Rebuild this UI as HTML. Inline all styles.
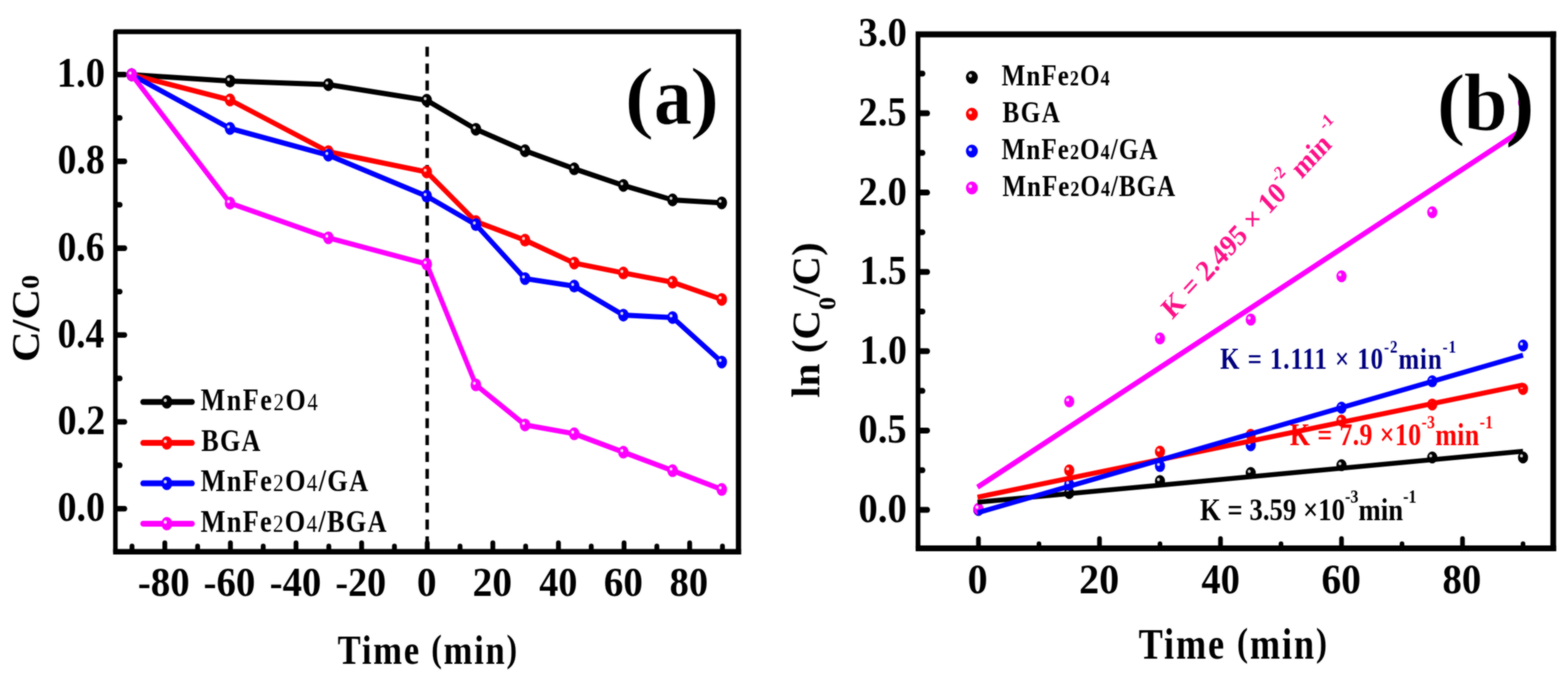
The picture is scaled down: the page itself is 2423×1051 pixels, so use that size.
<!DOCTYPE html>
<html lang="en">
<head>
<meta charset="utf-8">
<title>Figure: degradation curves and kinetics</title>
<style>
html,body{margin:0;padding:0;background:#fff;}
body{width:2423px;height:1051px;overflow:hidden;}
svg{display:block;}
text{white-space:pre;}
</style>
</head>
<body>
<svg width="2423" height="1051" viewBox="0 0 2423 1051">
<defs>
<filter id="soft" x="0" y="0" width="2423" height="1051" filterUnits="userSpaceOnUse" color-interpolation-filters="sRGB"><feGaussianBlur stdDeviation="0.85"/></filter>
</defs>
<g id="fig">
<rect width="2423" height="1051" fill="#ffffff"/>
<g transform="scale(0.92,1)">
<g stroke="#000" stroke-width="8.6" stroke-linecap="round"><line x1="194.89" y1="115.2" x2="209.35" y2="115.2"/><line x1="194.89" y1="249.4" x2="209.35" y2="249.4"/><line x1="194.89" y1="383.6" x2="209.35" y2="383.6"/><line x1="194.89" y1="517.8" x2="209.35" y2="517.8"/><line x1="194.89" y1="652.0" x2="209.35" y2="652.0"/><line x1="194.89" y1="786.2" x2="209.35" y2="786.2"/><line x1="194.89" y1="182.3" x2="201.52" y2="182.3"/><line x1="194.89" y1="316.5" x2="201.52" y2="316.5"/><line x1="194.89" y1="450.7" x2="201.52" y2="450.7"/><line x1="194.89" y1="584.9" x2="201.52" y2="584.9"/><line x1="194.89" y1="719.1" x2="201.52" y2="719.1"/></g>
<g stroke="#000" stroke-width="8.1" stroke-linecap="round"><line x1="276.83" y1="851.7" x2="276.83" y2="839.2"/><line x1="387.02" y1="851.7" x2="387.02" y2="839.2"/><line x1="497.22" y1="851.7" x2="497.22" y2="839.2"/><line x1="607.41" y1="851.7" x2="607.41" y2="839.2"/><line x1="717.61" y1="851.7" x2="717.61" y2="839.2"/><line x1="827.80" y1="851.7" x2="827.80" y2="839.2"/><line x1="938.00" y1="851.7" x2="938.00" y2="839.2"/><line x1="1048.20" y1="851.7" x2="1048.20" y2="839.2"/><line x1="1158.39" y1="851.7" x2="1158.39" y2="839.2"/><line x1="221.73" y1="851.7" x2="221.73" y2="844.2"/><line x1="331.92" y1="851.7" x2="331.92" y2="844.2"/><line x1="442.12" y1="851.7" x2="442.12" y2="844.2"/><line x1="552.32" y1="851.7" x2="552.32" y2="844.2"/><line x1="662.51" y1="851.7" x2="662.51" y2="844.2"/><line x1="772.71" y1="851.7" x2="772.71" y2="844.2"/><line x1="882.90" y1="851.7" x2="882.90" y2="844.2"/><line x1="993.10" y1="851.7" x2="993.10" y2="844.2"/><line x1="1103.29" y1="851.7" x2="1103.29" y2="844.2"/><line x1="1213.49" y1="851.7" x2="1213.49" y2="844.2"/></g>
<line x1="717.50" y1="72.2" x2="717.50" y2="852.7" stroke="#000" stroke-width="5.8" stroke-dasharray="15.4 10.7" stroke-dashoffset="0"/>
<polyline points="221.19,115.5 386.37,125.3 551.56,130.8 716.74,155.0 799.33,199.8 881.92,233.0 964.51,260.9 1047.10,286.6 1129.70,309.0 1212.29,313.6" fill="none" stroke="#000000" stroke-width="8.0" stroke-linejoin="round" stroke-linecap="round"/>
<ellipse cx="221.19" cy="115.5" rx="8.9" ry="9.9" fill="#000000"/><circle cx="218.59" cy="113.0" r="2.49" fill="#d4d4d4"/><ellipse cx="386.37" cy="125.3" rx="8.9" ry="9.9" fill="#000000"/><circle cx="383.77" cy="122.8" r="2.49" fill="#d4d4d4"/><ellipse cx="551.56" cy="130.8" rx="8.9" ry="9.9" fill="#000000"/><circle cx="548.96" cy="128.3" r="2.49" fill="#d4d4d4"/><ellipse cx="716.74" cy="155.0" rx="8.9" ry="9.9" fill="#000000"/><circle cx="714.14" cy="152.5" r="2.49" fill="#d4d4d4"/><ellipse cx="799.33" cy="199.8" rx="8.9" ry="9.9" fill="#000000"/><circle cx="796.73" cy="197.3" r="2.49" fill="#d4d4d4"/><ellipse cx="881.92" cy="233.0" rx="8.9" ry="9.9" fill="#000000"/><circle cx="879.32" cy="230.5" r="2.49" fill="#d4d4d4"/><ellipse cx="964.51" cy="260.9" rx="8.9" ry="9.9" fill="#000000"/><circle cx="961.91" cy="258.4" r="2.49" fill="#d4d4d4"/><ellipse cx="1047.10" cy="286.6" rx="8.9" ry="9.9" fill="#000000"/><circle cx="1044.50" cy="284.1" r="2.49" fill="#d4d4d4"/><ellipse cx="1129.70" cy="309.0" rx="8.9" ry="9.9" fill="#000000"/><circle cx="1127.10" cy="306.5" r="2.49" fill="#d4d4d4"/><ellipse cx="1212.29" cy="313.6" rx="8.9" ry="9.9" fill="#000000"/><circle cx="1209.69" cy="311.1" r="2.49" fill="#d4d4d4"/>
<polyline points="221.19,115.5 386.37,154.5 551.56,234.5 716.74,265.8 799.33,342.4 881.92,371.2 964.51,406.6 1047.10,421.9 1129.70,436.2 1212.29,462.8" fill="none" stroke="#ff0000" stroke-width="8.0" stroke-linejoin="round" stroke-linecap="round"/>
<ellipse cx="221.19" cy="115.5" rx="8.9" ry="9.9" fill="#ff0000"/><circle cx="218.59" cy="113.0" r="2.49" fill="#ffd8d8"/><ellipse cx="386.37" cy="154.5" rx="8.9" ry="9.9" fill="#ff0000"/><circle cx="383.77" cy="152.0" r="2.49" fill="#ffd8d8"/><ellipse cx="551.56" cy="234.5" rx="8.9" ry="9.9" fill="#ff0000"/><circle cx="548.96" cy="232.0" r="2.49" fill="#ffd8d8"/><ellipse cx="716.74" cy="265.8" rx="8.9" ry="9.9" fill="#ff0000"/><circle cx="714.14" cy="263.2" r="2.49" fill="#ffd8d8"/><ellipse cx="799.33" cy="342.4" rx="8.9" ry="9.9" fill="#ff0000"/><circle cx="796.73" cy="339.9" r="2.49" fill="#ffd8d8"/><ellipse cx="881.92" cy="371.2" rx="8.9" ry="9.9" fill="#ff0000"/><circle cx="879.32" cy="368.7" r="2.49" fill="#ffd8d8"/><ellipse cx="964.51" cy="406.6" rx="8.9" ry="9.9" fill="#ff0000"/><circle cx="961.91" cy="404.1" r="2.49" fill="#ffd8d8"/><ellipse cx="1047.10" cy="421.9" rx="8.9" ry="9.9" fill="#ff0000"/><circle cx="1044.50" cy="419.4" r="2.49" fill="#ffd8d8"/><ellipse cx="1129.70" cy="436.2" rx="8.9" ry="9.9" fill="#ff0000"/><circle cx="1127.10" cy="433.8" r="2.49" fill="#ffd8d8"/><ellipse cx="1212.29" cy="462.8" rx="8.9" ry="9.9" fill="#ff0000"/><circle cx="1209.69" cy="460.2" r="2.49" fill="#ffd8d8"/>
<polyline points="221.19,115.5 386.37,198.5 551.56,239.8 716.74,303.2 799.33,347.2 881.92,430.6 964.51,442.2 1047.10,487.1 1129.70,490.8 1212.29,559.6" fill="none" stroke="#0000ff" stroke-width="8.0" stroke-linejoin="round" stroke-linecap="round"/>
<ellipse cx="221.19" cy="115.5" rx="8.9" ry="9.9" fill="#0000ff"/><circle cx="218.59" cy="113.0" r="2.49" fill="#d8d8ff"/><ellipse cx="386.37" cy="198.5" rx="8.9" ry="9.9" fill="#0000ff"/><circle cx="383.77" cy="196.0" r="2.49" fill="#d8d8ff"/><ellipse cx="551.56" cy="239.8" rx="8.9" ry="9.9" fill="#0000ff"/><circle cx="548.96" cy="237.3" r="2.49" fill="#d8d8ff"/><ellipse cx="716.74" cy="303.2" rx="8.9" ry="9.9" fill="#0000ff"/><circle cx="714.14" cy="300.7" r="2.49" fill="#d8d8ff"/><ellipse cx="799.33" cy="347.2" rx="8.9" ry="9.9" fill="#0000ff"/><circle cx="796.73" cy="344.7" r="2.49" fill="#d8d8ff"/><ellipse cx="881.92" cy="430.6" rx="8.9" ry="9.9" fill="#0000ff"/><circle cx="879.32" cy="428.1" r="2.49" fill="#d8d8ff"/><ellipse cx="964.51" cy="442.2" rx="8.9" ry="9.9" fill="#0000ff"/><circle cx="961.91" cy="439.7" r="2.49" fill="#d8d8ff"/><ellipse cx="1047.10" cy="487.1" rx="8.9" ry="9.9" fill="#0000ff"/><circle cx="1044.50" cy="484.6" r="2.49" fill="#d8d8ff"/><ellipse cx="1129.70" cy="490.8" rx="8.9" ry="9.9" fill="#0000ff"/><circle cx="1127.10" cy="488.2" r="2.49" fill="#d8d8ff"/><ellipse cx="1212.29" cy="559.6" rx="8.9" ry="9.9" fill="#0000ff"/><circle cx="1209.69" cy="557.1" r="2.49" fill="#d8d8ff"/>
<polyline points="221.19,115.5 386.37,314.0 551.56,367.6 716.74,408.2 799.33,594.9 881.92,656.8 964.51,670.4 1047.10,698.9 1129.70,727.4 1212.29,756.4" fill="none" stroke="#ff00ff" stroke-width="8.0" stroke-linejoin="round" stroke-linecap="round"/>
<ellipse cx="221.19" cy="115.5" rx="8.9" ry="9.9" fill="#ff00ff"/><circle cx="218.59" cy="113.0" r="2.49" fill="#ffe0ff"/><ellipse cx="386.37" cy="314.0" rx="8.9" ry="9.9" fill="#ff00ff"/><circle cx="383.77" cy="311.5" r="2.49" fill="#ffe0ff"/><ellipse cx="551.56" cy="367.6" rx="8.9" ry="9.9" fill="#ff00ff"/><circle cx="548.96" cy="365.1" r="2.49" fill="#ffe0ff"/><ellipse cx="716.74" cy="408.2" rx="8.9" ry="9.9" fill="#ff00ff"/><circle cx="714.14" cy="405.7" r="2.49" fill="#ffe0ff"/><ellipse cx="799.33" cy="594.9" rx="8.9" ry="9.9" fill="#ff00ff"/><circle cx="796.73" cy="592.4" r="2.49" fill="#ffe0ff"/><ellipse cx="881.92" cy="656.8" rx="8.9" ry="9.9" fill="#ff00ff"/><circle cx="879.32" cy="654.2" r="2.49" fill="#ffe0ff"/><ellipse cx="964.51" cy="670.4" rx="8.9" ry="9.9" fill="#ff00ff"/><circle cx="961.91" cy="667.9" r="2.49" fill="#ffe0ff"/><ellipse cx="1047.10" cy="698.9" rx="8.9" ry="9.9" fill="#ff00ff"/><circle cx="1044.50" cy="696.4" r="2.49" fill="#ffe0ff"/><ellipse cx="1129.70" cy="727.4" rx="8.9" ry="9.9" fill="#ff00ff"/><circle cx="1127.10" cy="724.9" r="2.49" fill="#ffe0ff"/><ellipse cx="1212.29" cy="756.4" rx="8.9" ry="9.9" fill="#ff00ff"/><circle cx="1209.69" cy="753.9" r="2.49" fill="#ffe0ff"/>
<rect x="193.80" y="49.0" width="1046.63" height="803.7" fill="none" stroke="#000" stroke-width="7.6" stroke-linejoin="round"/>
<line x1="1240.43" y1="45.2" x2="1240.43" y2="857.0" stroke="#000" stroke-width="8.8"/>
<line x1="190.00" y1="852.7" x2="1244.83" y2="852.7" stroke="#000" stroke-width="8.6"/>
<line x1="240.22" y1="621.2" x2="322.61" y2="621.2" stroke="#000000" stroke-width="9" stroke-linecap="round"/>
<ellipse cx="280.22" cy="621.2" rx="9.2" ry="10.4" fill="#000000"/><circle cx="277.62" cy="618.7" r="2.58" fill="#d4d4d4"/>
<line x1="240.22" y1="684.6" x2="322.61" y2="684.6" stroke="#ff0000" stroke-width="9" stroke-linecap="round"/>
<ellipse cx="280.22" cy="684.6" rx="9.2" ry="10.4" fill="#ff0000"/><circle cx="277.62" cy="682.1" r="2.58" fill="#ffd8d8"/>
<line x1="240.22" y1="747.1" x2="322.61" y2="747.1" stroke="#0000ff" stroke-width="9" stroke-linecap="round"/>
<ellipse cx="280.22" cy="747.1" rx="9.2" ry="10.4" fill="#0000ff"/><circle cx="277.62" cy="744.6" r="2.58" fill="#d8d8ff"/>
<line x1="240.22" y1="809.4" x2="322.61" y2="809.4" stroke="#ff00ff" stroke-width="9" stroke-linecap="round"/>
<ellipse cx="280.22" cy="809.4" rx="9.2" ry="10.4" fill="#ff00ff"/><circle cx="277.62" cy="806.9" r="2.58" fill="#ffe0ff"/>
<g stroke="#000" stroke-width="9" stroke-linecap="round"><line x1="1543.04" y1="788.0" x2="1557.61" y2="788.0"/><line x1="1543.04" y1="665.4" x2="1557.61" y2="665.4"/><line x1="1543.04" y1="542.8" x2="1557.61" y2="542.8"/><line x1="1543.04" y1="420.2" x2="1557.61" y2="420.2"/><line x1="1543.04" y1="297.6" x2="1557.61" y2="297.6"/><line x1="1543.04" y1="175.0" x2="1557.61" y2="175.0"/><line x1="1543.04" y1="726.7" x2="1549.78" y2="726.7"/><line x1="1543.04" y1="604.1" x2="1549.78" y2="604.1"/><line x1="1543.04" y1="481.5" x2="1549.78" y2="481.5"/><line x1="1543.04" y1="358.9" x2="1549.78" y2="358.9"/><line x1="1543.04" y1="236.3" x2="1549.78" y2="236.3"/><line x1="1543.04" y1="113.7" x2="1549.78" y2="113.7"/></g>
<g stroke="#000" stroke-width="7.8" stroke-linecap="round"><line x1="1643.48" y1="846.5" x2="1643.48" y2="832.6"/><line x1="1846.74" y1="846.5" x2="1846.74" y2="832.6"/><line x1="2050.00" y1="846.5" x2="2050.00" y2="832.6"/><line x1="2253.26" y1="846.5" x2="2253.26" y2="832.6"/><line x1="2456.52" y1="846.5" x2="2456.52" y2="832.6"/><line x1="1745.11" y1="846.5" x2="1745.11" y2="840.6"/><line x1="1948.37" y1="846.5" x2="1948.37" y2="840.6"/><line x1="2151.63" y1="846.5" x2="2151.63" y2="840.6"/><line x1="2354.89" y1="846.5" x2="2354.89" y2="840.6"/><line x1="2558.15" y1="846.5" x2="2558.15" y2="840.6"/></g>
<ellipse cx="1643.48" cy="788.0" rx="8.5" ry="9.3" fill="#000000"/><circle cx="1640.88" cy="785.5" r="2.55" fill="#d4d4d4"/><ellipse cx="1795.92" cy="762.0" rx="8.5" ry="9.3" fill="#000000"/><circle cx="1793.32" cy="759.5" r="2.55" fill="#d4d4d4"/><ellipse cx="1948.37" cy="743.6" rx="8.5" ry="9.3" fill="#000000"/><circle cx="1945.77" cy="741.1" r="2.55" fill="#d4d4d4"/><ellipse cx="2100.82" cy="731.0" rx="8.5" ry="9.3" fill="#000000"/><circle cx="2098.22" cy="728.5" r="2.55" fill="#d4d4d4"/><ellipse cx="2253.26" cy="719.0" rx="8.5" ry="9.3" fill="#000000"/><circle cx="2250.66" cy="716.5" r="2.55" fill="#d4d4d4"/><ellipse cx="2405.71" cy="707.0" rx="8.5" ry="9.3" fill="#000000"/><circle cx="2403.11" cy="704.5" r="2.55" fill="#d4d4d4"/><ellipse cx="2558.15" cy="707.0" rx="8.5" ry="9.3" fill="#000000"/><circle cx="2555.55" cy="704.5" r="2.55" fill="#d4d4d4"/>
<ellipse cx="1643.48" cy="788.0" rx="8.5" ry="9.3" fill="#ff0000"/><circle cx="1640.88" cy="785.5" r="2.55" fill="#ffd8d8"/><ellipse cx="1795.92" cy="727.0" rx="8.5" ry="9.3" fill="#ff0000"/><circle cx="1793.32" cy="724.5" r="2.55" fill="#ffd8d8"/><ellipse cx="1948.37" cy="698.0" rx="8.5" ry="9.3" fill="#ff0000"/><circle cx="1945.77" cy="695.5" r="2.55" fill="#ffd8d8"/><ellipse cx="2100.82" cy="672.0" rx="8.5" ry="9.3" fill="#ff0000"/><circle cx="2098.22" cy="669.5" r="2.55" fill="#ffd8d8"/><ellipse cx="2253.26" cy="650.0" rx="8.5" ry="9.3" fill="#ff0000"/><circle cx="2250.66" cy="647.5" r="2.55" fill="#ffd8d8"/><ellipse cx="2405.71" cy="625.2" rx="8.5" ry="9.3" fill="#ff0000"/><circle cx="2403.11" cy="622.7" r="2.55" fill="#ffd8d8"/><ellipse cx="2558.15" cy="601.1" rx="8.5" ry="9.3" fill="#ff0000"/><circle cx="2555.55" cy="598.6" r="2.55" fill="#ffd8d8"/>
<ellipse cx="1643.48" cy="788.0" rx="8.5" ry="9.3" fill="#0000ff"/><circle cx="1640.88" cy="785.5" r="2.55" fill="#d8d8ff"/><ellipse cx="1795.92" cy="748.8" rx="8.5" ry="9.3" fill="#0000ff"/><circle cx="1793.32" cy="746.3" r="2.55" fill="#d8d8ff"/><ellipse cx="1948.37" cy="720.3" rx="8.5" ry="9.3" fill="#0000ff"/><circle cx="1945.77" cy="717.8" r="2.55" fill="#d8d8ff"/><ellipse cx="2100.82" cy="688.1" rx="8.5" ry="9.3" fill="#0000ff"/><circle cx="2098.22" cy="685.6" r="2.55" fill="#d8d8ff"/><ellipse cx="2253.26" cy="630.1" rx="8.5" ry="9.3" fill="#0000ff"/><circle cx="2250.66" cy="627.6" r="2.55" fill="#d8d8ff"/><ellipse cx="2405.71" cy="589.3" rx="8.5" ry="9.3" fill="#0000ff"/><circle cx="2403.11" cy="586.8" r="2.55" fill="#d8d8ff"/><ellipse cx="2558.15" cy="534.0" rx="8.5" ry="9.3" fill="#0000ff"/><circle cx="2555.55" cy="531.5" r="2.55" fill="#d8d8ff"/>
<ellipse cx="1643.48" cy="786.4" rx="8.5" ry="9.3" fill="#ff00ff"/><circle cx="1640.88" cy="783.9" r="2.55" fill="#ffe0ff"/><ellipse cx="1795.92" cy="620.5" rx="8.5" ry="9.3" fill="#ff00ff"/><circle cx="1793.32" cy="618.0" r="2.55" fill="#ffe0ff"/><ellipse cx="1948.37" cy="523.0" rx="8.5" ry="9.3" fill="#ff00ff"/><circle cx="1945.77" cy="520.5" r="2.55" fill="#ffe0ff"/><ellipse cx="2100.82" cy="493.9" rx="8.5" ry="9.3" fill="#ff00ff"/><circle cx="2098.22" cy="491.4" r="2.55" fill="#ffe0ff"/><ellipse cx="2253.26" cy="427.0" rx="8.5" ry="9.3" fill="#ff00ff"/><circle cx="2250.66" cy="424.5" r="2.55" fill="#ffe0ff"/><ellipse cx="2405.71" cy="328.0" rx="8.5" ry="9.3" fill="#ff00ff"/><circle cx="2403.11" cy="325.5" r="2.55" fill="#ffe0ff"/><ellipse cx="2558.15" cy="158.6" rx="8.5" ry="9.3" fill="#ff00ff"/><circle cx="2555.55" cy="156.1" r="2.55" fill="#ffe0ff"/>
<line x1="1641.85" y1="776.14" x2="2558.15" y2="697.5" stroke="#000000" stroke-width="7.5" stroke-linecap="butt"/>
<line x1="1641.85" y1="768.41" x2="2558.15" y2="595.0" stroke="#ff0000" stroke-width="7.7" stroke-linecap="butt"/>
<line x1="1641.85" y1="792.53" x2="2558.15" y2="549.0" stroke="#0000ff" stroke-width="7.7" stroke-linecap="butt"/>
<line x1="1641.85" y1="752.99" x2="2561.41" y2="198.3" stroke="#ff00ff" stroke-width="8.2" stroke-linecap="butt"/>
<rect x="1541.96" y="53.1" width="1066.96" height="794.4" fill="none" stroke="#000" stroke-width="8.0" stroke-linejoin="round"/>
<line x1="2608.91" y1="48.5" x2="2608.91" y2="852.1" stroke="#000" stroke-width="9.6"/>
<line x1="1537.96" y1="53.1" x2="2613.71" y2="53.1" stroke="#000" stroke-width="9.2" stroke-linecap="butt"/>
<line x1="1537.96" y1="847.5" x2="2613.71" y2="847.5" stroke="#000" stroke-width="9.2" stroke-linecap="butt"/>
<ellipse cx="1632.39" cy="119.6" rx="10" ry="10" fill="#000000"/><circle cx="1629.79" cy="117.1" r="2.80" fill="#d4d4d4"/>
<ellipse cx="1632.39" cy="176.5" rx="10" ry="10" fill="#ff0000"/><circle cx="1629.79" cy="174.0" r="2.80" fill="#ffd8d8"/>
<ellipse cx="1632.39" cy="233.5" rx="10" ry="10" fill="#0000ff"/><circle cx="1629.79" cy="231.0" r="2.80" fill="#d8d8ff"/>
<ellipse cx="1632.39" cy="290.5" rx="10" ry="10" fill="#ff00ff"/><circle cx="1629.79" cy="288.0" r="2.80" fill="#ffe0ff"/>
</g>
<text transform="translate(92.50,134.80) translate(-4.77,-0.65) scale(0.9109,1)" font-size="65.48" font-family="'Liberation Serif', 'Times New Roman', serif" font-weight="bold" fill="#000">1.0</text>
<text transform="translate(91.40,269.00) translate(-2.33,-0.65) scale(0.8903,1)" font-size="65.48" font-family="'Liberation Serif', 'Times New Roman', serif" font-weight="bold" fill="#000">0.8</text>
<text transform="translate(91.40,403.20) translate(-2.32,-0.65) scale(0.8865,1)" font-size="65.48" font-family="'Liberation Serif', 'Times New Roman', serif" font-weight="bold" fill="#000">0.6</text>
<text transform="translate(91.40,537.40) translate(-2.30,-0.65) scale(0.8791,1)" font-size="65.48" font-family="'Liberation Serif', 'Times New Roman', serif" font-weight="bold" fill="#000">0.4</text>
<text transform="translate(91.40,671.60) translate(-2.35,-0.65) scale(0.8979,1)" font-size="65.48" font-family="'Liberation Serif', 'Times New Roman', serif" font-weight="bold" fill="#000">0.2</text>
<text transform="translate(91.40,805.80) translate(-2.34,-0.65) scale(0.8941,1)" font-size="65.48" font-family="'Liberation Serif', 'Times New Roman', serif" font-weight="bold" fill="#000">0.0</text>
<text transform="translate(215.00,921.50) translate(-2.11,-0.64) scale(0.9378,1)" font-size="64.15" font-family="'Liberation Serif', 'Times New Roman', serif" font-weight="bold" fill="#000">-80</text>
<text transform="translate(316.50,921.50) translate(-2.11,-0.64) scale(0.9378,1)" font-size="64.15" font-family="'Liberation Serif', 'Times New Roman', serif" font-weight="bold" fill="#000">-60</text>
<text transform="translate(418.80,921.50) translate(-2.10,-0.64) scale(0.9341,1)" font-size="64.15" font-family="'Liberation Serif', 'Times New Roman', serif" font-weight="bold" fill="#000">-40</text>
<text transform="translate(520.30,921.50) translate(-2.06,-0.64) scale(0.9193,1)" font-size="64.15" font-family="'Liberation Serif', 'Times New Roman', serif" font-weight="bold" fill="#000">-20</text>
<text transform="translate(646.70,921.50) translate(-2.43,-0.64) scale(0.9465,1)" font-size="64.15" font-family="'Liberation Serif', 'Times New Roman', serif" font-weight="bold" fill="#000">0</text>
<text transform="translate(732.70,921.50) translate(-2.44,-0.64) scale(0.9523,1)" font-size="64.15" font-family="'Liberation Serif', 'Times New Roman', serif" font-weight="bold" fill="#000">20</text>
<text transform="translate(834.20,921.50) translate(-0.88,-0.64) scale(0.9188,1)" font-size="64.15" font-family="'Liberation Serif', 'Times New Roman', serif" font-weight="bold" fill="#000">40</text>
<text transform="translate(935.00,921.50) translate(-2.12,-0.64) scale(0.9438,1)" font-size="64.15" font-family="'Liberation Serif', 'Times New Roman', serif" font-weight="bold" fill="#000">60</text>
<text transform="translate(1036.80,921.50) translate(-2.08,-0.64) scale(0.9269,1)" font-size="64.15" font-family="'Liberation Serif', 'Times New Roman', serif" font-weight="bold" fill="#000">80</text>
<text transform="translate(522.60,1026.00) translate(-0.80,-0.00) scale(0.8300,1)" font-size="64.31" font-family="'Liberation Serif', 'Times New Roman', serif" font-weight="bold" fill="#000" letter-spacing="3.33">Time <tspan font-size="91.4%" dy="-0.0755em">(</tspan><tspan dy="0.069em">min</tspan><tspan font-size="91.4%" dy="-0.0755em">)</tspan></text>
<text transform="translate(61.10,556.30) rotate(-90) translate(-3.29,-0.62) scale(1.0610,1)" font-size="61.94" font-family="'Liberation Serif', 'Times New Roman', serif" font-weight="bold" fill="#000">C/C<tspan font-size="66%">0</tspan></text>
<text transform="translate(310.60,634.30) translate(-0.60,-0.00) scale(0.8400,1)" font-size="47.69" font-family="'Liberation Serif', 'Times New Roman', serif" font-weight="bold" fill="#000" letter-spacing="3.08">MnFe<tspan font-size="80%" font-weight="normal">2</tspan>O<tspan font-size="80%" font-weight="normal">4</tspan></text>
<text transform="translate(311.60,696.70) translate(-0.61,-0.00) scale(0.8400,1)" font-size="48.09" font-family="'Liberation Serif', 'Times New Roman', serif" font-weight="bold" fill="#000" letter-spacing="2.35">BGA</text>
<text transform="translate(310.60,759.10) translate(-0.61,-0.00) scale(0.8400,1)" font-size="48.46" font-family="'Liberation Serif', 'Times New Roman', serif" font-weight="bold" fill="#000" letter-spacing="2.41">MnFe<tspan font-size="80%" font-weight="normal">2</tspan>O<tspan font-size="80%" font-weight="normal">4</tspan>/GA</text>
<text transform="translate(310.60,821.50) translate(-0.61,-0.00) scale(0.8400,1)" font-size="48.46" font-family="'Liberation Serif', 'Times New Roman', serif" font-weight="bold" fill="#000" letter-spacing="2.34">MnFe<tspan font-size="80%" font-weight="normal">2</tspan>O<tspan font-size="80%" font-weight="normal">4</tspan>/BGA</text>
<text transform="translate(1329.00,807.70) translate(-2.39,-0.63) scale(0.9458,1)" font-size="63.26" font-family="'Liberation Serif', 'Times New Roman', serif" font-weight="bold" fill="#000">0.0</text>
<text transform="translate(1329.00,685.10) translate(-2.38,-0.63) scale(0.9418,1)" font-size="63.26" font-family="'Liberation Serif', 'Times New Roman', serif" font-weight="bold" fill="#000">0.5</text>
<text transform="translate(1333.00,562.50) translate(-4.67,-0.63) scale(0.9233,1)" font-size="63.26" font-family="'Liberation Serif', 'Times New Roman', serif" font-weight="bold" fill="#000">1.0</text>
<text transform="translate(1333.00,439.90) translate(-4.65,-0.63) scale(0.9192,1)" font-size="63.26" font-family="'Liberation Serif', 'Times New Roman', serif" font-weight="bold" fill="#000">1.5</text>
<text transform="translate(1329.00,317.30) translate(-2.39,-0.63) scale(0.9458,1)" font-size="63.26" font-family="'Liberation Serif', 'Times New Roman', serif" font-weight="bold" fill="#000">2.0</text>
<text transform="translate(1329.00,194.70) translate(-2.38,-0.63) scale(0.9418,1)" font-size="63.26" font-family="'Liberation Serif', 'Times New Roman', serif" font-weight="bold" fill="#000">2.5</text>
<text transform="translate(1329.00,72.10) translate(-2.39,-0.63) scale(0.9458,1)" font-size="63.26" font-family="'Liberation Serif', 'Times New Roman', serif" font-weight="bold" fill="#000">3.0</text>
<text transform="translate(1497.80,917.80) translate(-2.48,-0.66) scale(0.9411,1)" font-size="65.78" font-family="'Liberation Serif', 'Times New Roman', serif" font-weight="bold" fill="#000">0</text>
<text transform="translate(1669.90,917.80) translate(-2.48,-0.66) scale(0.9419,1)" font-size="65.78" font-family="'Liberation Serif', 'Times New Roman', serif" font-weight="bold" fill="#000">20</text>
<text transform="translate(1857.40,917.80) translate(-0.89,-0.66) scale(0.9041,1)" font-size="65.78" font-family="'Liberation Serif', 'Times New Roman', serif" font-weight="bold" fill="#000">40</text>
<text transform="translate(2044.10,917.80) translate(-2.13,-0.66) scale(0.9253,1)" font-size="65.78" font-family="'Liberation Serif', 'Times New Roman', serif" font-weight="bold" fill="#000">60</text>
<text transform="translate(2231.10,917.80) translate(-2.10,-0.66) scale(0.9122,1)" font-size="65.78" font-family="'Liberation Serif', 'Times New Roman', serif" font-weight="bold" fill="#000">80</text>
<text transform="translate(1760.30,1018.10) translate(-0.84,-0.00) scale(0.8300,1)" font-size="67.54" font-family="'Liberation Serif', 'Times New Roman', serif" font-weight="bold" fill="#000" letter-spacing="3.49">Time <tspan font-size="91.4%" dy="-0.0755em">(</tspan><tspan dy="0.069em">min</tspan><tspan font-size="91.4%" dy="-0.0755em">)</tspan></text>
<text transform="translate(1266.40,613.60) rotate(-90) translate(-1.27,-0.61) scale(1.0401,1)" font-size="61.04" font-family="'Liberation Serif', 'Times New Roman', serif" font-weight="bold" fill="#000">ln (C<tspan font-size="63%" dy="0.665em">0</tspan><tspan dy="-0.419em">/C)</tspan></text>
<text transform="translate(1548.30,131.90) translate(-0.58,-0.00) scale(0.8500,1)" font-size="45.54" font-family="'Liberation Serif', 'Times New Roman', serif" font-weight="bold" fill="#000" letter-spacing="1.98">MnFe<tspan font-size="72%">2</tspan>O<tspan font-size="72%">4</tspan></text>
<text transform="translate(1549.60,188.90) translate(-0.58,-0.00) scale(0.8500,1)" font-size="45.80" font-family="'Liberation Serif', 'Times New Roman', serif" font-weight="bold" fill="#000" letter-spacing="2.58">BGA</text>
<text transform="translate(1548.30,245.70) translate(-0.58,-0.00) scale(0.8500,1)" font-size="45.54" font-family="'Liberation Serif', 'Times New Roman', serif" font-weight="bold" fill="#000" letter-spacing="2.00">MnFe<tspan font-size="72%">2</tspan>O<tspan font-size="72%">4</tspan>/GA</text>
<text transform="translate(1549.60,302.60) translate(-0.58,-0.00) scale(0.8500,1)" font-size="45.54" font-family="'Liberation Serif', 'Times New Roman', serif" font-weight="bold" fill="#000" letter-spacing="1.83">MnFe<tspan font-size="72%">2</tspan>O<tspan font-size="72%">4</tspan>/BGA</text>
<text transform="translate(1854.90,804.00) translate(-0.62,-0.00) scale(0.8400,1)" font-size="49.08" font-family="'Liberation Serif', 'Times New Roman', serif" font-weight="bold" fill="#000" letter-spacing="0.09">K = 3.59 ×10<tspan font-size="60%" dy="-0.92em">-3</tspan><tspan dy="0.552em">min</tspan><tspan font-size="60%" dy="-0.92em">-1</tspan></text>
<text transform="translate(1993.90,688.10) translate(-0.60,-0.00) scale(0.8400,1)" font-size="47.69" font-family="'Liberation Serif', 'Times New Roman', serif" font-weight="bold" fill="#ff0000" letter-spacing="0.70">K = 7.9 ×10<tspan font-size="60%" dy="-0.92em">-3</tspan><tspan dy="0.552em">min</tspan><tspan font-size="60%" dy="-0.92em">-1</tspan></text>
<text transform="translate(1886.20,570.20) translate(-0.58,-0.00) scale(0.8400,1)" font-size="45.69" font-family="'Liberation Serif', 'Times New Roman', serif" font-weight="bold" fill="#000080" letter-spacing="1.76">K = 1.111 × 10<tspan font-size="60%" dy="-0.92em">-2</tspan><tspan dy="0.552em">min</tspan><tspan font-size="60%" dy="-0.92em">-1</tspan></text>
<text transform="translate(1812.00,494.20) scale(0.92,1) rotate(-45) translate(-0.67,-0.00) scale(0.9684,1)" font-size="45.85" font-family="'Liberation Serif', 'Times New Roman', serif" font-weight="bold" fill="#ff1088">K = 2.495 × 10<tspan font-size="60%" dy="-0.92em">-2</tspan><tspan dy="0.552em"> min</tspan><tspan font-size="60%" dy="-0.92em"> -1</tspan></text>
<text y="191.30" font-size="127.50" font-family="'Liberation Serif', 'Times New Roman', serif" font-weight="bold" fill="#000" stroke="#fff" stroke-linejoin="round"><tspan x="964.12" textLength="47.93" lengthAdjust="spacingAndGlyphs" stroke-width="2.6">(</tspan><tspan x="1010.39" textLength="58.57" lengthAdjust="spacingAndGlyphs" stroke-width="0.6">a</tspan><tspan x="1064.90" textLength="47.77" lengthAdjust="spacingAndGlyphs" stroke-width="2.6">)</tspan></text>
<text y="201.30" font-size="127.60" font-family="'Liberation Serif', 'Times New Roman', serif" font-weight="bold" fill="#000" stroke="#fff" stroke-linejoin="round"><tspan x="2218.66" textLength="46.88" lengthAdjust="spacingAndGlyphs" stroke-width="2.6">(</tspan><tspan x="2261.76" textLength="68.17" lengthAdjust="spacingAndGlyphs" stroke-width="1.4">b</tspan><tspan x="2326.50" textLength="44.44" lengthAdjust="spacingAndGlyphs" stroke-width="0">)</tspan></text>
</g>
<use href="#fig" filter="url(#soft)" opacity="0.65"/>
</svg>
</body>
</html>
